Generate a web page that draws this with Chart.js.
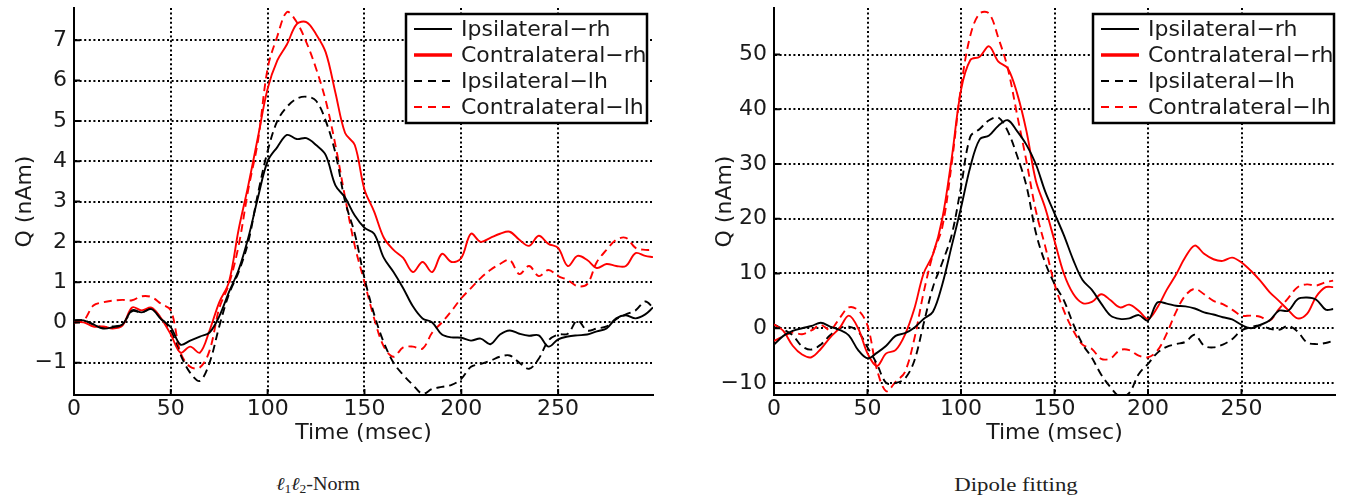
<!DOCTYPE html>
<html>
<head>
<meta charset="utf-8">
<script src="https://cdn.jsdelivr.net/npm/chart.js@4.4.1/dist/chart.umd.min.js"></script>
<style>
  html, body { margin: 0; padding: 0; background: #fff; }
  body { width: 1348px; height: 503px; position: relative; overflow: hidden; }
  .panel { position: absolute; top: 0; height: 450px; }
  #left { left: 0; width: 680px; }
  #right { left: 700px; width: 648px; }
  .cap {
    position: absolute; top: 474px; white-space: nowrap;
    font-family: "Liberation Serif", serif; font-size: 18px; color: #222;
    transform: translateX(-50%) scaleX(1.12);
  }
  .cap.wide { font-size: 19px; transform: translateX(-50%) scaleX(1.2); }
  .cap sub { font-size: 12px; vertical-align: -3px; }
</style>
</head>
<body>
<div class="panel" id="left"><canvas id="chart-l1l2"></canvas></div>
<div class="panel" id="right"><canvas id="chart-dipole"></canvas></div>
<div class="cap" style="left:318px"><i>ℓ</i><sub>1</sub><i>ℓ</i><sub>2</sub>-Norm</div>
<div class="cap wide" style="left:1016px">Dipole fitting</div>

<script>
// time axis (msec), shared by every series
const TIME = [0, 5, 10, 15, 20, 25, 30, 35, 40, 45, 50, 55, 60, 65, 70, 75, 80, 85, 90, 95,
  100, 105, 110, 115, 120, 125, 130, 135, 140, 145, 150, 155, 160, 165, 170, 175, 180, 185, 190, 195,
  200, 205, 210, 215, 220, 225, 230, 235, 240, 245, 250, 255, 260, 265, 270, 275, 280, 285, 290, 295, 299];

const SERIES_LABELS = ["Ipsilateral−rh", "Contralateral−rh", "Ipsilateral−lh", "Contralateral−lh"];
const X_TICKS = [0, 50, 100, 150, 200, 250];

// ── ℓ1ℓ2-Norm (nAm) ──────────────────────────────────────────────────────────
const L1L2_IPSI_RH = [0.05, 0.05, -0.05, -0.15, -0.12, -0.05, 0.3, 0.25, 0.33, 0.08,
  -0.12, -0.55, -0.45, -0.35, -0.25, 0.15, 0.75, 1.3, 2.1, 3.1,
  4.0, 4.35, 4.65, 4.55, 4.57, 4.4, 4.15, 3.4, 3.1, 2.65,
  2.35, 2.2, 1.6, 1.25, 0.85, 0.4, 0.1, 0.0, -0.3, -0.37,
  -0.38, -0.45, -0.4, -0.54, -0.3, -0.2, -0.28, -0.33, -0.32, -0.6,
  -0.42, -0.35, -0.32, -0.3, -0.22, -0.15, 0.1, 0.18, 0.1, 0.2, 0.37];
const L1L2_CONTRA_RH = [0, 0, -0.1, -0.1, -0.15, -0.08, 0.37, 0.3, 0.37, 0.1,
  -0.3, -0.75, -0.6, -0.75, -0.2, 0.5, 1.0, 2.3, 3.4, 4.6,
  5.8, 6.5, 6.9, 7.4, 7.45, 7.15, 6.7, 5.7, 4.7, 4.4,
  3.3, 2.75, 2.1, 1.8, 1.6, 1.25, 1.5, 1.25, 1.7, 1.5,
  1.6, 2.2, 2.0, 2.1, 2.2, 2.25, 2.05, 1.9, 2.15, 1.95,
  1.85, 1.4, 1.65, 1.55, 1.35, 1.45, 1.4, 1.4, 1.72, 1.65, 1.62];
const L1L2_IPSI_LH = [0.05, 0.05, -0.05, -0.12, -0.1, -0.05, 0.28, 0.25, 0.35, 0.1,
  -0.2, -0.8, -1.25, -1.45, -1.0, -0.1, 0.7, 1.25, 2.0, 3.2,
  4.25, 5.0, 5.35, 5.55, 5.6, 5.5, 5.0, 4.2, 3.0, 2.2,
  1.1, 0.2, -0.5, -1.0, -1.3, -1.55, -1.77, -1.65, -1.6, -1.55,
  -1.4, -1.1, -1.03, -0.95, -0.85, -0.82, -1.0, -1.15, -0.9, -0.45,
  -0.3, -0.28, 0.05, -0.2, -0.15, -0.1, 0.08, 0.2, 0.3, 0.52, 0.37];
const L1L2_CONTRA_LH = [0, 0.05, 0.42, 0.5, 0.54, 0.56, 0.55, 0.65, 0.63, 0.46,
  0.3, -0.75, -1.1, -1.12, -0.7, 0.35, 0.95, 1.9, 3.3, 4.5,
  6.3, 7.1, 7.7, 7.45, 6.95, 6.3, 5.5, 4.4, 3.1, 1.9,
  1.0, 0.1, -0.6, -0.85, -0.62, -0.6, -0.65, -0.25, 0.0, 0.29,
  0.6, 0.85, 1.1, 1.3, 1.45, 1.55, 1.2, 1.4, 1.15, 1.3,
  1.15, 1.05, 0.9, 0.95, 1.5, 1.8, 2.05, 2.1, 1.85, 1.8, 1.8];
const L1L2_Y_TICKS = [-1, 0, 1, 2, 3, 4, 5, 6, 7];

// ── Dipole fitting (nAm) ─────────────────────────────────────────────────────
const DIPOLE_IPSI_RH = [-3.0, -1.4, -0.5, 0.0, 0.4, 1.0, 0.3, -0.3, -1.3, -4.0,
  -5.5, -4.5, -3.2, -1.4, -0.9, 0.1, 1.7, 3.0, 8.0, 15.0,
  22, 29.5, 34.5, 35.2, 37.0, 38.0, 36.0, 33.5, 30, 25,
  21, 17, 12.5, 8.8, 7.0, 4.5, 2.3, 1.7, 1.8, 2.4,
  1.4, 4.7, 4.5, 4.1, 4.0, 3.6, 2.9, 2.5, 2.0, 1.6,
  0.6, 0.0, 0.6, 1.4, 3.2, 3.2, 5.3, 5.6, 5.2, 3.4, 3.5];
const DIPOLE_CONTRA_RH = [0.7, -0.5, -3.2, -4.8, -5.3, -3.8, -1.7, 0.0, 2.3, 0.0,
  -4.6, -6.9, -4.6, -4.0, -1.2, 3.5, 10, 13.5, 20, 31,
  43.5, 49, 49.6, 51.5, 48.7, 47.5, 42.9, 36, 27, 22,
  16, 10, 6.3, 4.6, 4.8, 6.2, 5.1, 3.8, 4.3, 3.2,
  1.7, 3.8, 7.0, 9.8, 13, 15.1, 13.6, 12.6, 12.3, 12.9,
  12, 10.5, 8.7, 6.6, 5.0, 3.3, 1.8, 2.6, 5.8, 7.5, 7.5];
const DIPOLE_IPSI_LH = [0.7, -0.2, -1.3, -3.3, -3.9, -3.0, -1.3, 0.0, 0.3, -0.6,
  -3.5, -6.5, -10.0, -10.0, -9.2, -6.0, 0.8, 7.5, 12, 17,
  25.8, 35, 36.4, 38, 38.5, 36, 31.5, 26, 17.5, 12,
  8.1, 5.1, 0.8, -2.9, -5.4, -8.5, -10.8, -12.5, -11.8, -8.4,
  -6.5, -4.5, -3.4, -2.9, -2.5, -1.2, -3.2, -3.5, -3.0, -2.0,
  -0.4, 0.2, 0.5, -0.1, -0.3, 0.4, -0.6, -2.6, -2.9, -2.7, -2.3];
const DIPOLE_CONTRA_LH = [-2.3, -1.5, -0.8, -1.1, -0.4, 0.6, -0.3, 1.8, 3.8, 3.3,
  0.5, -7.5, -11.5, -9.8, -8.0, -2.0, 6.5, 13.5, 18.5, 30,
  44, 53.5, 57.5, 57.5, 53, 47.5, 39, 30.5, 21.5, 15,
  8.1, 3.2, -0.4, -3.0, -3.8, -5.6, -5.5, -4.0, -4.0, -5.0,
  -5.3, -4.1, -1.0, 3.0, 6.0, 7.2, 6.2, 5.0, 4.4, 3.4,
  2.3, 2.3, 2.1, 1.4, 3.5, 5.5, 7.5, 8.0, 7.8, 8.4, 8.7];
const DIPOLE_Y_TICKS = [-10, 0, 10, 20, 30, 40, 50];

const FONT = "DejaVu Sans";
const TEXT = "#1a1a1a";
const RED = "#ff0000";
const DASH = [8, 5];

// MATLAB-style boxed legend in the upper right of the axes
const boxLegend = {
  id: "boxLegend",
  afterDatasetsDraw(chart, args, opts) {
    const { ctx, chartArea } = chart;
    const w = 241, h = 109;
    const x = chartArea.right - opts.right - w;
    const y = chartArea.top + 6;
    ctx.save();
    ctx.fillStyle = "#fff";
    ctx.fillRect(x, y, w, h);
    ctx.lineWidth = 2.5;
    ctx.strokeStyle = "#000";
    ctx.strokeRect(x, y, w, h);
    ctx.font = `22px "${FONT}"`;
    ctx.textBaseline = "middle";
    chart.data.datasets.forEach((ds, i) => {
      const cy = y + 15 + i * 26;
      ctx.beginPath();
      ctx.strokeStyle = ds.borderColor;
      ctx.lineWidth = ds.borderColor === RED && !ds.borderDash ? 3.5 : 2;
      ctx.setLineDash(ds.borderDash ? [8, 6] : []);
      ctx.moveTo(x + 8, cy);
      ctx.lineTo(x + 46, cy);
      ctx.stroke();
      ctx.setLineDash([]);
      ctx.fillStyle = TEXT;
      ctx.fillText(ds.label, x + 55, cy + 1);
    });
    ctx.restore();
  },
};

// short inward tick marks on the left and bottom axes, as MATLAB draws them
const innerTicks = {
  id: "innerTicks",
  afterDraw(chart) {
    const { ctx, chartArea, scales } = chart;
    ctx.save();
    ctx.strokeStyle = "#000";
    ctx.lineWidth = 2;
    ctx.beginPath();
    scales.x.ticks.forEach(t => {
      const px = scales.x.getPixelForValue(t.value);
      ctx.moveTo(px, chartArea.bottom);
      ctx.lineTo(px, chartArea.bottom - 6);
    });
    scales.y.ticks.forEach(t => {
      const py = scales.y.getPixelForValue(t.value);
      ctx.moveTo(chartArea.left, py);
      ctx.lineTo(chartArea.left + 6, py);
    });
    ctx.stroke();
    ctx.restore();
  },
};

function makeDatasets(series) {
  const styles = [
    { borderColor: "#000" },
    { borderColor: RED },
    { borderColor: "#000", borderDash: DASH },
    { borderColor: RED, borderDash: DASH },
  ];
  return series.map((values, i) => ({
    label: SERIES_LABELS[i],
    data: TIME.map((t, k) => ({ x: t, y: values[k] })),
    borderWidth: 1.9,
    pointRadius: 0,
    tension: 0.35,
    fill: false,
    ...styles[i],
  }));
}

function keepTicks(list) {
  return (scale) => { scale.ticks = list.map(v => ({ value: v })); };
}

function buildChart(canvasId, series, xMax, yMin, yMax, yTicks, padRight, legendRight) {
  const tickFont = { family: FONT, size: 22 };
  const grid = { color: "#000", lineWidth: 2, drawTicks: false };
  const border = { display: true, color: "#000", width: 2, dash: [2, 2.6] };
  return new Chart(document.getElementById(canvasId), {
    type: "line",
    data: { datasets: makeDatasets(series) },
    plugins: [boxLegend, innerTicks],
    options: {
      responsive: true,
      maintainAspectRatio: false,
      animation: false,
      devicePixelRatio: 1,
      layout: { padding: { top: 8, right: padRight, left: 0, bottom: 0 } },
      plugins: {
        legend: { display: false },
        tooltip: { enabled: false },
        boxLegend: { right: legendRight },
      },
      scales: {
        x: {
          type: "linear",
          min: 0,
          max: xMax,
          afterBuildTicks: keepTicks(X_TICKS),
          afterFit: (s) => { s.height = 55; s.paddingLeft = 0; s.paddingRight = 0; },
          ticks: { font: tickFont, color: TEXT, padding: 1, maxRotation: 0, autoSkip: false },
          grid,
          border,
          title: { display: true, text: "Time (msec)", font: { family: FONT, size: 22 }, color: TEXT, padding: { top: 0, bottom: 4 } },
        },
        y: {
          min: yMin,
          max: yMax,
          afterBuildTicks: keepTicks(yTicks),
          afterFit: (s) => { s.width = 74; s.paddingTop = 0; s.paddingBottom = 0; },
          ticks: {
            font: tickFont, color: TEXT, padding: 7, autoSkip: false,
            callback: (v) => String(v).replace("-", "−"),
          },
          grid,
          border,
          title: { display: true, text: "Q (nAm)", font: { family: FONT, size: 22 }, color: TEXT, padding: { top: 12, bottom: 0 } },
        },
      },
    },
  });
}

buildChart("chart-l1l2",
  [L1L2_IPSI_RH, L1L2_CONTRA_RH, L1L2_IPSI_LH, L1L2_CONTRA_LH],
  299, -1.8, 7.8, L1L2_Y_TICKS, 27, 6);

buildChart("chart-dipole",
  [DIPOLE_IPSI_RH, DIPOLE_CONTRA_RH, DIPOLE_IPSI_LH, DIPOLE_CONTRA_LH],
  300, -12.2, 58.5, DIPOLE_Y_TICKS, 13, 1);
</script>
</body>
</html>
